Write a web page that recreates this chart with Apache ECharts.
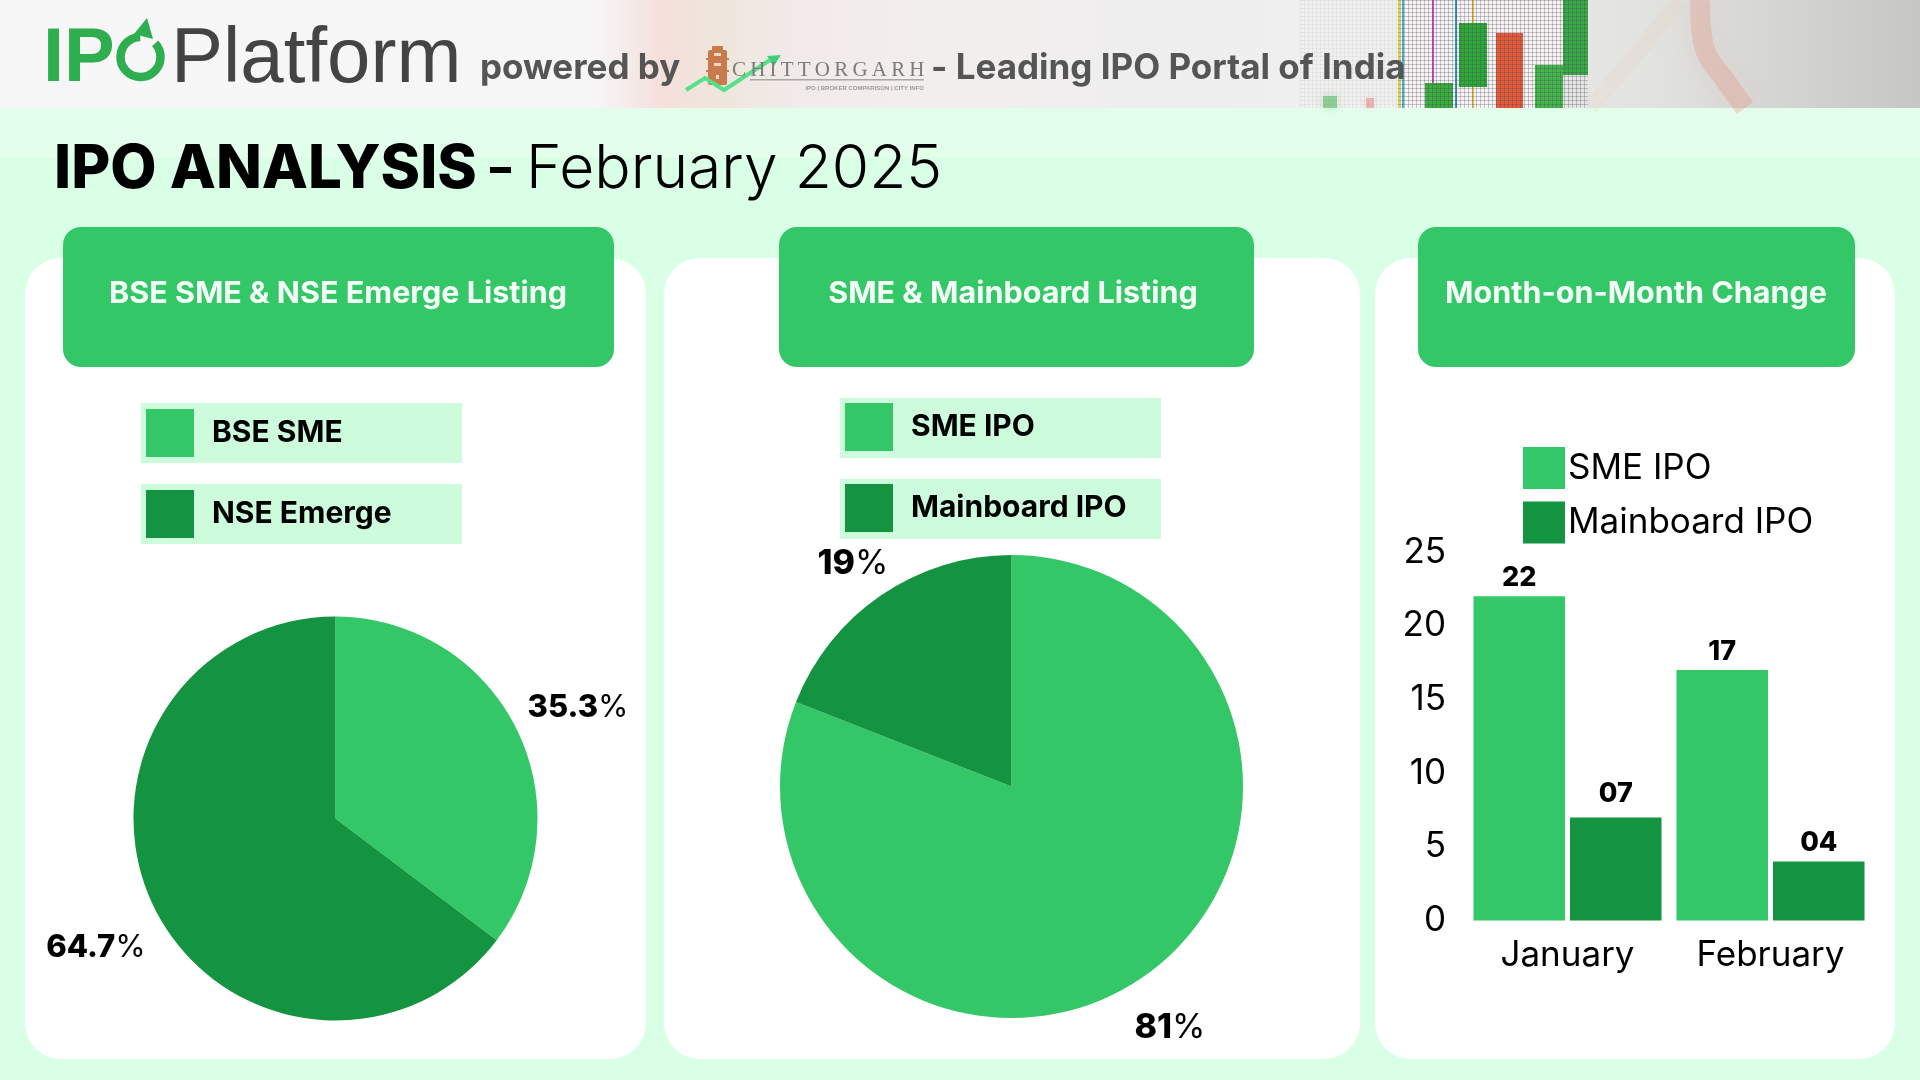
<!DOCTYPE html>
<html>
<head>
<meta charset="utf-8">
<title>IPO Analysis - February 2025</title>
<style>
  html, body { margin: 0; padding: 0; background: #d9ffe6; }
  #chart { width: 1920px; height: 1080px; }
</style>
<script src="https://cdn.jsdelivr.net/npm/echarts@6/dist/echarts.min.js"></script>
</head>
<body>
<div id="chart"></div>
<script>
const LIGHT = '#34c768'
const DARK = '#149340'
const BAND = '#ccfcdc'
const FONT = 'Inter'

// 图表数据
const exchangeData = [
  { name: 'BSE SME', value: 6, color: LIGHT },
  { name: 'NSE Emerge', value: 11, color: DARK }
]
const boardData = [
  { name: 'SME IPO', value: 17, color: LIGHT },
  { name: 'Mainboard IPO', value: 4, color: DARK }
]
const monthData = {
  months: ['January', 'February'],
  sme: [22, 17],
  mainboard: [{ value: 7, label: { distance: 10 } }, 4]
}

// label positions, same order as the data above
const exchangeLabels = [[578, 708], [96, 948]]
const boardLabels = [[1170, 1028], [853, 564]]

// LED dot pattern for the header photo
function dotPattern(color) {
  const c = document.createElement('canvas')
  c.width = 4
  c.height = 4
  const ctx = c.getContext('2d')
  ctx.fillStyle = color
  ctx.fillRect(0, 0, 4, 1)
  ctx.fillRect(0, 0, 1, 4)
  return { image: c, repeat: 'repeat' }
}

function rect(x, y, width, height, fill, r, extra) {
  return {
    type: 'rect',
    shape: { x, y, width, height, r: r || 0 },
    style: Object.assign({ fill }, extra || {})
  }
}

function text(x, y, str, font, fill, align) {
  return {
    type: 'text',
    x,
    y,
    style: { text: str, font, fill, align: align || 'left', verticalAlign: 'middle' }
  }
}

function hGradient(stops) {
  return {
    type: 'linear', x: 0, y: 0, x2: 1, y2: 0,
    colorStops: stops.map(s => ({ offset: s[0], color: s[1] }))
  }
}

function softStroke(points, stroke, lineWidth, blur) {
  return {
    type: 'polyline',
    shape: { points, smooth: 0.4 },
    style: { fill: null, stroke, lineWidth, shadowBlur: blur, shadowColor: stroke, lineCap: 'butt' }
  }
}

function headerPhoto() {
  return [
    rect(0, 0, 1920, 108, hGradient([
      [0, '#f7f7f7'], [0.31, '#f6f6f6'], [0.345, '#f5dfda'], [0.375, '#eee6dc'],
      [0.41, '#f2eae8'], [0.48, '#f3eeee'], [0.62, '#eeeeee'], [0.72, '#f1f0f0'],
      [0.86, '#e2e2df'], [1, '#c6c6c4']
    ])),
    softStroke([[1330, 96], [1330, 108]], 'rgba(70,180,80,0.5)', 14, 10),
    softStroke([[1370, 98], [1370, 108]], 'rgba(230,120,120,0.45)', 8, 8),
    // 屏幕亮块
    rect(1398, 0, 165, 108, '#f7f3f5'),
    rect(1398, 0, 2, 108, '#e8d23c'),
    rect(1402, 0, 2, 108, '#39b7c9'),
    rect(1432, 0, 2, 108, '#d24fc2'),
    rect(1455, 0, 2, 108, '#2a9fc4'),
    rect(1472, 0, 2, 108, '#e8c83c'),
    rect(1425, 83, 28, 25, '#3aae3f'),
    rect(1459, 23, 28, 64, '#2fa83a'),
    rect(1496, 33, 27, 75, '#e65a3c'),
    rect(1535, 65, 28, 43, '#45b44c'),
    rect(1563, 0, 25, 75, '#39a846'),
    rect(1398, 0, 190, 108, dotPattern('rgba(70,70,80,0.28)')),
    rect(1300, 0, 98, 108, dotPattern('rgba(120,120,120,0.07)')),
    softStroke([[1700, 0], [1705, 50], [1725, 80], [1745, 108]], 'rgba(225,135,120,0.28)', 20, 24),
    softStroke([[1590, 108], [1640, 50], [1680, 0]], 'rgba(235,205,180,0.16)', 16, 20)
  ]
}

function headerLogos() {
  return [
    text(43, 60, 'IP', 'bold 76px "Liberation Sans"', '#2eae4e'),
    {
      type: 'arc',
      shape: { cx: 140.5, cy: 57, r: 20, startAngle: -0.75, endAngle: 4.7, clockwise: true },
      style: { fill: null, stroke: '#2eae4e', lineWidth: 8.5 }
    },
    {
      type: 'polygon',
      shape: { points: [[147, 18], [134, 34], [153, 39]] },
      style: { fill: '#2eae4e' }
    },
    text(171, 60, 'Platform', '78px "Liberation Sans"', '#444444'),
    text(480, 68, 'powered by', `700 35px ${FONT}`, '#555555'),
    // chittorgarh logo
    rect(708, 50, 19, 35, '#c97a4c', 2),
    rect(712, 46, 11, 5, '#c97a4c', 1),
    rect(706, 58, 23, 2, '#c97a4c'),
    rect(706, 70, 23, 2, '#c97a4c'),
    rect(714, 53, 7, 3, '#f2d8c4'),
    rect(714, 63, 7, 3, '#f2d8c4'),
    rect(716, 75, 3, 4, '#f2d8c4'),
    {
      type: 'polyline',
      shape: { points: [[686, 90], [705, 78], [724, 90], [770, 60]] },
      style: { stroke: '#55e08c', lineWidth: 4, fill: null }
    },
    {
      type: 'polygon',
      shape: { points: [[781, 55], [767, 56], [774, 66]] },
      style: { fill: '#3fd07c' }
    },
    text(732, 70, 'C\u2009H\u2009I\u2009T\u2009T\u2009O\u2009R\u2009G\u2009A\u2009R\u2009H', '21px "Liberation Serif"', '#7c7c7c'),
    rect(750, 79, 174, 1.6, '#a8a8a8'),
    text(924, 88, 'IPO | BROKER COMPARISON | CITY INFO', '700 6px "Liberation Sans"', '#9a9a9a', 'right'),
    text(931, 68, '- Leading IPO Portal of India', `700 35px ${FONT}`, '#555555')
  ]
}

// 卡片 + 标题
function panel(left, right, boxLeft, boxRight, title, textX) {
  return [
    rect(left, 258, right - left, 801, '#ffffff', 36),
    rect(boxLeft, 227, boxRight - boxLeft, 140, LIGHT, 18),
    text(textX, 294, title, `700 30.5px ${FONT}`, '#f4fff8', 'center')
  ]
}

const graphicElements = [
  rect(0, 108, 1920, 50, '#e3ffec'),
  ...headerPhoto(),
  ...headerLogos(),
  text(54, 170, 'IPO ANALYSIS', `800 60px ${FONT}`, '#000000'),
  rect(490, 167, 21, 6, '#000000'),
  text(526, 170, 'February 2025', `300 60.5px ${FONT}`, '#000000'),
  ...panel(25, 646, 63, 614, 'BSE SME & NSE Emerge Listing', 338),
  ...panel(664, 1360, 779, 1254, 'SME & Mainboard Listing', 1013),
  ...panel(1375, 1895, 1418, 1855, 'Month-on-Month Change', 1636),
  // 图例底色
  rect(141, 403, 321, 60, BAND),
  rect(141, 484, 321, 60, BAND),
  rect(840, 398, 321, 60, BAND),
  rect(840, 479, 321, 60, BAND)
]

function pieLegend(left, top, data) {
  return {
    orient: 'vertical',
    left,
    top,
    padding: 0,
    itemGap: 33,
    itemWidth: 48,
    itemHeight: 48,
    icon: 'rect',
    selectedMode: false,
    data: data.map(d => d.name),
    textStyle: {
      fontFamily: FONT,
      fontWeight: 700,
      fontSize: 30,
      color: '#000000',
      padding: [4, 0, 0, 13]
    }
  }
}

function pieSeries(center, radius, data, precision, labels, fontSize) {
  return {
    type: 'pie',
    center,
    radius,
    startAngle: 90,
    percentPrecision: precision,
    avoidLabelOverlap: false,
    emphasis: { disabled: true },
    itemStyle: { borderWidth: 0 },
    label: {
      show: true,
      position: 'outside',
      formatter: '{n|{d}}{p|%}',
      rich: {
        n: { fontFamily: FONT, fontWeight: 800, fontSize, color: '#000000' },
        p: { fontFamily: FONT, fontWeight: 400, fontSize, color: '#000000' }
      }
    },
    labelLine: { show: false },
    labelLayout: params => ({
      x: labels[params.dataIndex][0],
      y: labels[params.dataIndex][1],
      align: 'center',
      verticalAlign: 'middle'
    }),
    data: data.map(d => ({ name: d.name, value: d.value, itemStyle: { color: d.color } }))
  }
}

function barSeries(name, color, data) {
  return {
    name,
    type: 'bar',
    barWidth: 91.5,
    barGap: '5.5%',
    itemStyle: { color },
    label: {
      show: true,
      position: 'top',
      distance: 5,
      formatter: ({ value }) => String(value).padStart(2, '0'),
      fontFamily: FONT,
      fontWeight: 800,
      fontSize: 27,
      color: '#000000'
    },
    data
  }
}

const chart = echarts.init(document.getElementById('chart'), null, { width: 1920, height: 1080 })

chart.setOption({
  animation: false,
  backgroundColor: '#d9ffe6',
  textStyle: { fontFamily: FONT },
  graphic: { elements: graphicElements },
  legend: [
    pieLegend(146, 409, exchangeData),
    pieLegend(845, 403, boardData),
    {
      orient: 'vertical',
      left: 1523,
      top: 447,
      padding: 0,
      itemGap: 12.5,
      itemWidth: 42,
      itemHeight: 42,
      icon: 'rect',
      selectedMode: false,
      data: ['SME IPO', 'Mainboard IPO'],
      itemStyle: { borderWidth: 0 },
      textStyle: { fontFamily: FONT, fontSize: 35, color: '#000000', padding: [6, 0, 0, -2] }
    }
  ],
  grid: {
    left: 1466,
    top: 552,
    width: 406,
    height: 368.6
  },
  xAxis: {
    type: 'category',
    data: monthData.months,
    axisLine: { show: false },
    axisTick: { show: false },
    axisLabel: { fontFamily: FONT, fontSize: 35, color: '#000000', margin: 17 }
  },
  yAxis: {
    type: 'value',
    min: 0,
    max: 25,
    interval: 5,
    axisLine: { show: false },
    axisTick: { show: false },
    splitLine: { show: false },
    axisLabel: { fontFamily: FONT, fontSize: 35, color: '#000000', margin: 20, padding: [8, 0, 0, 0] }
  },
  series: [
    pieSeries([335.5, 818.5], 202, exchangeData, 1, exchangeLabels, 31),
    pieSeries([1011.5, 786.5], 231.5, boardData, 0, boardLabels, 34),
    barSeries('SME IPO', LIGHT, monthData.sme),
    barSeries('Mainboard IPO', DARK, monthData.mainboard)
  ]
})
</script>
</body>
</html>
